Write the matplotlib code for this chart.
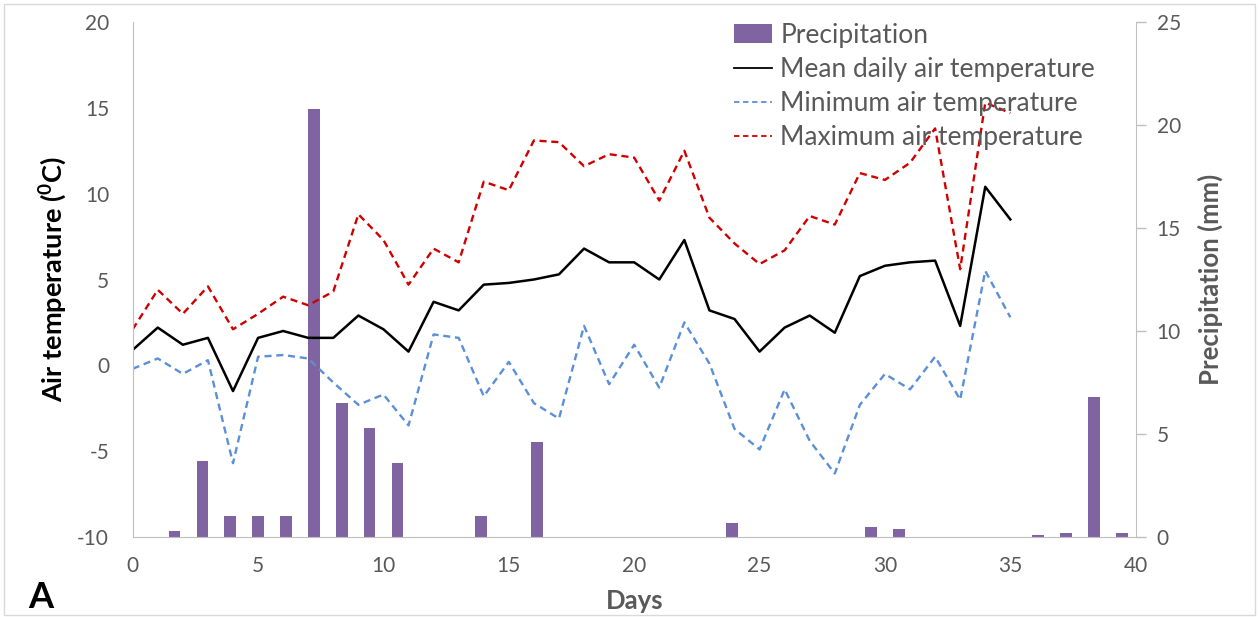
import matplotlib.pyplot as plt

plt.rcParams["font.family"] = ["Lato", "DejaVu Sans"]
plt.rcParams["axes.unicode_minus"] = False

# daily air temperature, days 0..35
days = list(range(36))
t_mean = [0.9, 2.2, 1.2, 1.6, -1.5, 1.6, 2.0, 1.6, 1.6, 2.9, 2.1, 0.8,
          3.7, 3.2, 4.7, 4.8, 5.0, 5.3, 6.8, 6.0, 6.0, 5.0, 7.3, 3.2,
          2.7, 0.8, 2.2, 2.9, 1.9, 5.2, 5.8, 6.0, 6.1, 2.3, 10.4, 8.5]
t_min = [-0.2, 0.4, -0.5, 0.3, -5.7, 0.5, 0.6, 0.4, -1.0, -2.3, -1.7, -3.5,
         1.8, 1.6, -1.8, 0.2, -2.2, -3.1, 2.3, -1.1, 1.2, -1.3, 2.5, 0.1,
         -3.7, -4.9, -1.4, -4.4, -6.3, -2.3, -0.5, -1.4, 0.5, -2.0, 5.5, 2.8]
t_max = [2.1, 4.4, 3.0, 4.6, 2.1, 3.0, 4.0, 3.5, 4.3, 8.8, 7.3, 4.7,
         6.8, 6.0, 10.7, 10.2, 13.1, 13.0, 11.6, 12.3, 12.1, 9.6, 12.5, 8.6,
         7.1, 5.9, 6.7, 8.7, 8.2, 11.2, 10.8, 11.8, 13.8, 5.6, 15.3, 14.7]

# precipitation, 36 categories on a hidden secondary x axis
precip_idx = list(range(36))
precip = [0, 0.3, 3.7, 1.0, 1.0, 1.0, 20.8, 6.5, 5.3, 3.6, 0, 0,
          1.0, 0, 4.6, 0, 0, 0, 0, 0, 0, 0.7, 0, 0,
          0, 0, 0.5, 0.4, 0, 0, 0, 0, 0.1, 0.2, 6.8, 0.2]

GRAY = "#595959"
AXIS = "#BFBFBF"

fig = plt.figure(figsize=(12.59, 6.17), dpi=100)
rect = [132.7 / 1259, 80 / 617, 1003 / 1259, 515 / 617]

# bars (right axis)
axb = fig.add_axes(rect)
bars = axb.bar(precip_idx, precip, width=0.42, color="#8064A2",
               label="Precipitation", zorder=1)
axb.set_xlim(-0.5, 35.5)
axb.set_ylim(0, 25)
axb.set_xticks([])
axb.yaxis.tick_right()
axb.yaxis.set_label_position("right")
axb.set_yticks(range(0, 26, 5))
axb.tick_params(axis="y", colors=AXIS, labelcolor=GRAY, labelsize=15,
                length=7, width=1, direction="out", pad=8)
for s in ["top", "left", "bottom"]:
    axb.spines[s].set_visible(False)
axb.spines["right"].set_color(AXIS)
axb.set_ylabel("Precipitation (mm)", fontsize=18.5, fontweight="bold",
               color=GRAY, labelpad=12)

# lines (left axis)
ax = fig.add_axes(rect)
ax.patch.set_visible(False)
l1, = ax.plot(days, t_mean, color="black", lw=1.8,
              label="Mean daily air temperature")
l2, = ax.plot(days, t_min, color="#5B8FD8", lw=1.7, ls=(0, (3, 2)),
              label="Minimum air temperature")
l3, = ax.plot(days, t_max, color="#D00000", lw=1.7, ls=(0, (3, 2)),
              label="Maximum air temperature")
ax.set_xlim(0, 40)
ax.set_ylim(-10, 20)
ax.set_xticks(range(0, 41, 5))
ax.set_yticks(range(-10, 21, 5))
ax.tick_params(length=0, labelcolor=GRAY, labelsize=15)
ax.tick_params(axis="y", pad=17)
ax.tick_params(axis="x", pad=14)
for s in ["top", "right"]:
    ax.spines[s].set_visible(False)
ax.spines["left"].set_color(AXIS)
ax.spines["bottom"].set_color(AXIS)
ax.set_ylabel("Air temperature ($\\mathregular{^0}$C)", fontsize=19.5,
              fontweight="bold", color="black", labelpad=6)
ax.set_xlabel("Days", fontsize=18.5, fontweight="bold", color=GRAY, labelpad=9)

leg = ax.legend([bars, l1, l2, l3],
                ["Precipitation", "Mean daily air temperature",
                 "Minimum air temperature", "Maximum air temperature"],
                loc="upper left", bbox_to_anchor=(0.576, 1.045), frameon=False,
                fontsize=19, labelcolor=GRAY, handlelength=1.45,
                handletextpad=0.3, labelspacing=0.35)
for h in leg.legend_handles[1:]:
    h.set_linewidth(1.3)

fig.text(28 / 1259, 1 - 597 / 617, "A", fontsize=26, fontweight="bold",
         va="center", ha="left")

# chart border
fig.patches.append(plt.Rectangle((0.003, 0.003), 0.994, 0.99,
                                 transform=fig.transFigure, fill=False,
                                 edgecolor="#D9D9D9", lw=1))

fig.savefig("out.png", dpi=100)
